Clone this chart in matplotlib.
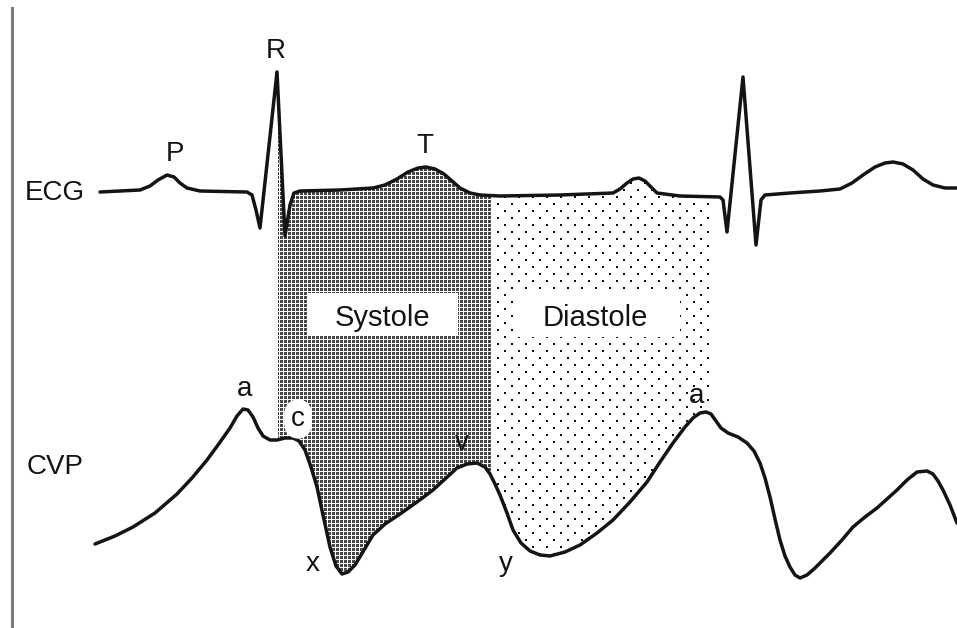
import numpy as np
import matplotlib
matplotlib.use("Agg")
import matplotlib.pyplot as plt
from matplotlib.patches import Polygon, Rectangle

# schematic traces (time axis left->right, depth axis top->bottom)
ECG_X = [100, 120, 140, 150, 158, 167, 174, 180, 187, 200, 247, 252, 256, 260, 277,
         285, 290, 294, 300, 340, 373, 385, 397, 408, 418, 426, 435, 444, 452, 460,
         470, 480, 500, 560, 613, 620, 627, 633, 639, 645, 651, 657, 680, 720, 723,
         727, 743, 756, 761, 765, 790, 820, 840, 852, 863, 875, 885, 893, 903, 913,
         923, 933, 945, 957]
ECG_Y = [192, 191, 190, 186, 180, 175, 177, 183, 188, 191, 192, 195, 210, 228, 72,
         236, 205, 193, 191, 190, 188, 185, 179, 172, 168, 167, 169, 174, 181, 188,
         193, 195, 196, 195, 193, 189, 183, 179, 178, 181, 187, 193, 196, 197, 200,
         232, 77, 245, 200, 195, 193, 191, 189, 183, 175, 167, 163, 162, 164, 170,
         179, 185, 188, 188]

CVP_X = [95, 115, 133, 155, 177, 192, 207, 218, 230, 237, 243, 248, 253, 258, 263,
         270, 277, 285, 293, 299, 305, 311, 317, 323, 330, 336, 342, 348, 355, 364,
         373, 385, 400, 417, 433, 445, 457, 467, 477, 485, 490, 495, 500, 507, 513,
         521, 530, 540, 550, 565, 580, 597, 613, 630, 647, 660, 673, 685, 693, 700,
         706, 711, 716, 721, 728, 738, 747, 754, 760, 765, 770, 775, 780, 785, 790,
         795, 800, 807, 815, 830, 842, 853, 865, 877, 887, 897, 907, 917, 927, 933,
         938, 943, 950, 957]
CVP_Y = [544, 536, 527, 513, 494, 478, 460, 445, 428, 416, 409, 410, 417, 428, 436,
         440, 440, 438, 438, 441, 450, 467, 487, 515, 547, 566, 574, 572, 565, 550,
         535, 524, 514, 502, 490, 479, 468, 464, 463, 467, 474, 484, 495, 513, 530,
         543, 551, 555, 556, 552, 545, 533, 520, 502, 482, 462, 443, 427, 418, 413,
         412, 414, 421, 428, 433, 437, 443, 451, 463, 478, 497, 519, 540, 556, 567,
         575, 578, 575, 568, 553, 540, 527, 517, 508, 499, 490, 480, 472, 471, 474,
         481, 490, 505, 523]

# cardiac phases (start, end) on the time axis
SYSTOLE = (278, 492)
DIASTOLE = (492, 714)

# wave labels: text, time, depth
WAVE_LABELS = [("R", 276, 51), ("P", 175, 154), ("T", 425, 146), ("ECG", 55, 193),
               ("CVP", 55, 467), ("a", 245, 389), ("x", 313, 564), ("v", 462, 443),
               ("y", 506, 564), ("a", 697, 396)]

W, H = 957, 628
INK = "#141414"

plt.rcParams["font.family"] = ["Liberation Sans", "DejaVu Sans"]

fig = plt.figure(figsize=(W / 100, H / 100), dpi=100)
ax = fig.add_axes([0, 0, 1, 1])


def phase_polygon(x0, x1):
    ex, ey = np.array(ECG_X), np.array(ECG_Y)
    cx, cy = np.array(CVP_X), np.array(CVP_Y)
    m = (ex > x0) & (ex < x1)
    top = [(x0, np.interp(x0, ex, ey))] + list(zip(ex[m], ey[m])) + [(x1, np.interp(x1, ex, ey))]
    m = (cx > x0) & (cx < x1)
    bot = [(x0, np.interp(x0, cx, cy))] + list(zip(cx[m], cy[m])) + [(x1, np.interp(x1, cx, cy))]
    return Polygon(top + bot[::-1], closed=True, transform=ax.transData,
                   facecolor="none", edgecolor="none")


# halftone screens, one pixel per cell
jj, ii = np.meshgrid(np.arange(W), np.arange(H))
grid = np.zeros((H, W, 4))
on = (jj % 4 != 3) & (ii % 4 != 3)
grid[on] = [0.28, 0.28, 0.28, 1.0]

dots = np.zeros((H, W, 4))
shift = ((ii // 7) % 2) * 7
on = ((ii % 7) < 2) & (((jj + shift) % 14) < 2)
dots[on] = [0.05, 0.05, 0.05, 1.0]

for tex, (x0, x1) in [(grid, SYSTOLE), (dots, DIASTOLE)]:
    poly = phase_polygon(x0, x1)
    ax.add_patch(poly)
    im = ax.imshow(tex, extent=(0, W, H, 0), interpolation="nearest", zorder=1)
    im.set_clip_path(poly)

# white label boxes
ax.add_patch(Rectangle((308, 293), 150, 43, facecolor="white", edgecolor="none", zorder=2))
ax.add_patch(Rectangle((516, 291), 164, 46, facecolor="white", edgecolor="none", zorder=2))
ax.text(382, 318, "Systole", fontsize=21, color=INK, ha="center", va="center", zorder=5)
ax.text(595, 318, "Diastole", fontsize=21, color=INK, ha="center", va="center", zorder=5)

ax.plot(ECG_X, ECG_Y, color=INK, lw=2.5, solid_joinstyle="round",
        solid_capstyle="round", zorder=4)
ax.plot(CVP_X, CVP_Y, color=INK, lw=2.5, solid_joinstyle="round",
        solid_capstyle="round", zorder=4)

for txt, x, y in WAVE_LABELS:
    ax.text(x, y, txt, fontsize=20, color=INK, ha="center", va="center", zorder=5)
ax.text(298, 419, "c", fontsize=20, color=INK, ha="center", va="center", zorder=5,
        bbox=dict(boxstyle="round,pad=0.25,rounding_size=0.6", fc="white", ec="none"))

ax.set_xlim(0, W)
ax.set_ylim(H, 0)
ax.set_aspect("auto")
ax.set_xticks([])
ax.set_yticks([])
for s in ("top", "right", "bottom"):
    ax.spines[s].set_visible(False)
ax.spines["left"].set_position(("data", 12))
ax.spines["left"].set_bounds(8, H)
ax.spines["left"].set_color("#7a7a7a")
ax.spines["left"].set_linewidth(2.2)

fig.savefig("out.png", dpi=100, facecolor="white")
